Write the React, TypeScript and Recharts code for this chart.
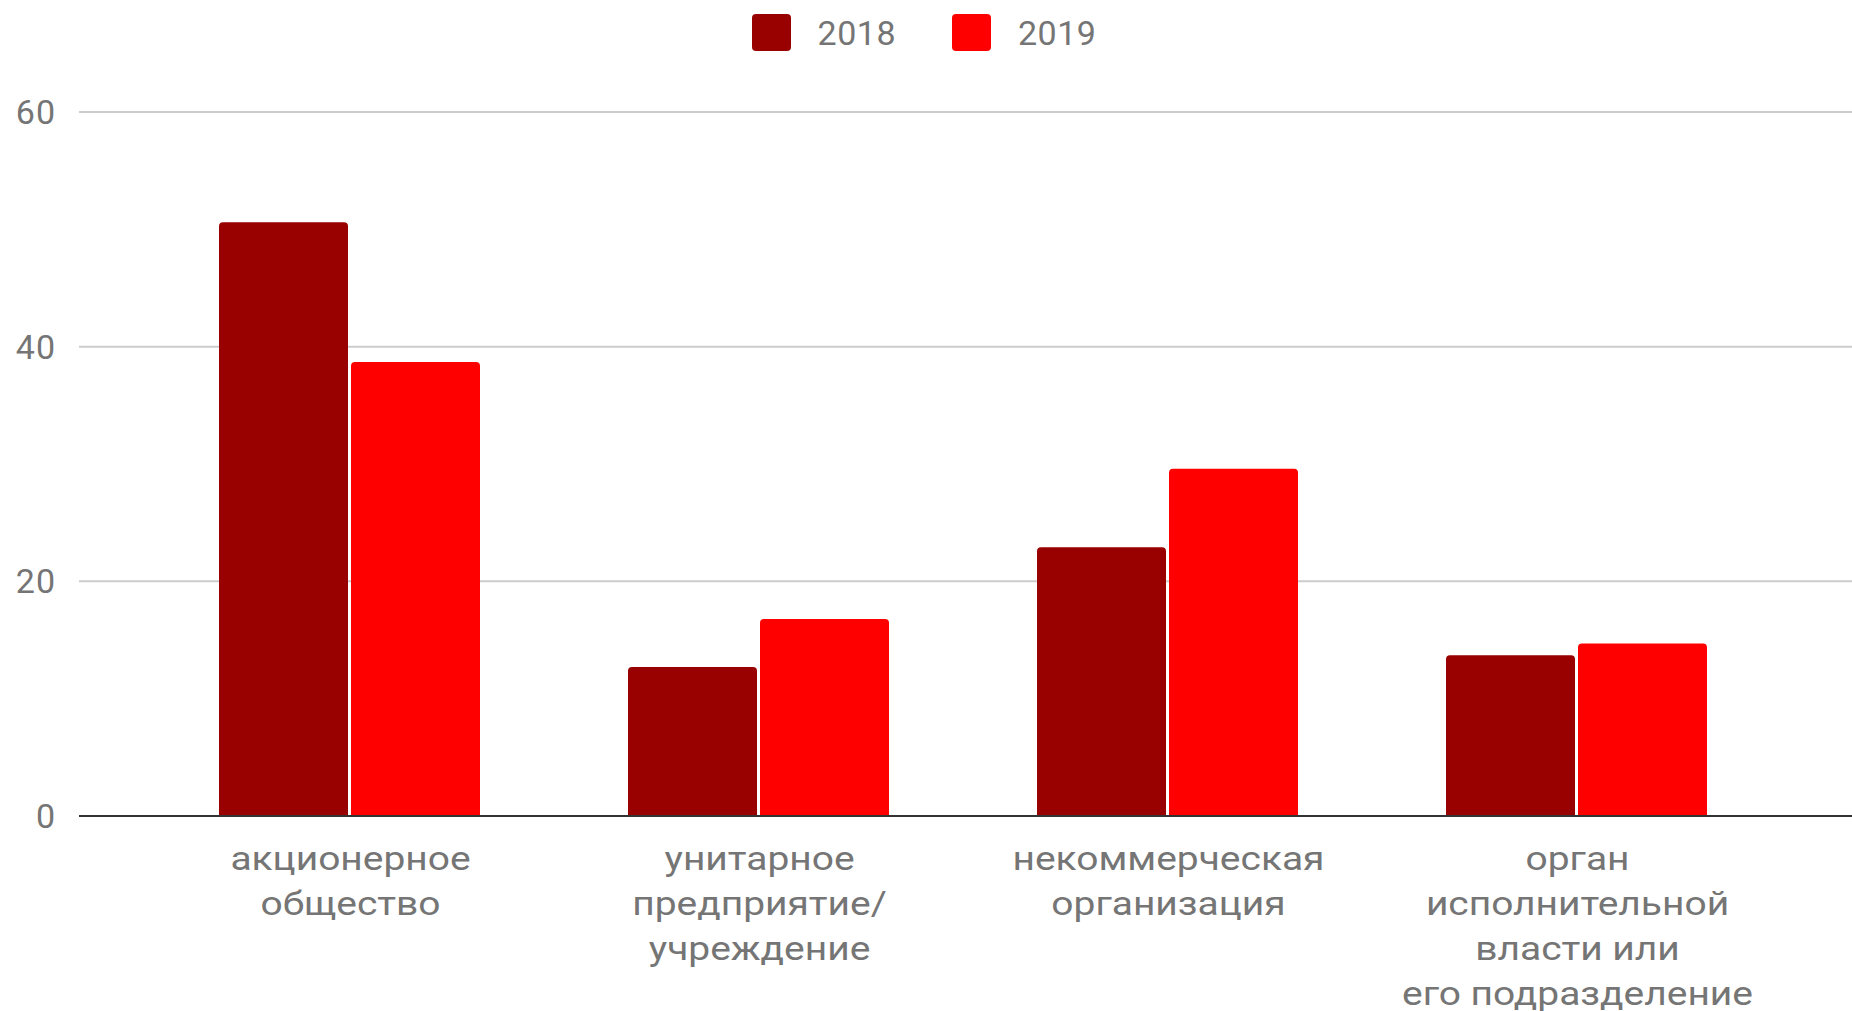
import { BarChart, Bar, XAxis, YAxis, CartesianGrid, Legend } from 'recharts';

const categories = ['акционерное общество', 'унитарное предприятие/учреждение', 'некоммерческая организация', 'орган исполнительной власти или его подразделение'];
const categoryLines = [
  ['акционерное', 'общество'],
  ['унитарное', 'предприятие/', 'учреждение'],
  ['некоммерческая', 'организация'],
  ['орган', 'исполнительной', 'власти или', 'его подразделение'],
];
const values2018 = [50.6, 12.7, 22.9, 13.7];
const values2019 = [38.7, 16.8, 29.6, 14.7];
const yTicks = [0, 20, 40, 60];

const SERIES = [
  { key: 'y2018', name: '2018', color: '#990000' },
  { key: 'y2019', name: '2019', color: '#ff0000' },
];

const FONT = 'Roboto, sans-serif';
const TEXT = '#757575';

const data = categories.map((name, i) => ({
  name,
  y2018: values2018[i],
  y2019: values2019[i],
}));

// multi-line category labels; the original glyphs are stretched sideways
const CategoryTick = ({ x, y, index }: any) => {
  const lines = categoryLines[index] || [];
  return (
    <g transform={`translate(${x + 1},${y}) scale(1.18,1)`}>
      <text x={0} y={0} textAnchor="middle" fill={TEXT} fontSize={33} fontFamily={FONT}>
        {lines.map((l, i) => (
          <tspan key={i} x={0} dy={i === 0 ? 54 : 45}>{l}</tspan>
        ))}
      </text>
    </g>
  );
};

const LegendBox = () => (
  <div style={{ display: 'flex', justifyContent: 'center', alignItems: 'center', height: 65, fontFamily: FONT, paddingRight: 4 }}>
    {SERIES.map((s, i) => (
      <div key={s.key} style={{ display: 'flex', alignItems: 'center', marginLeft: i === 0 ? 0 : 56 }}>
        <div style={{ width: 39, height: 37, borderRadius: 4, background: s.color }} />
        <span style={{ marginLeft: 27, fontSize: 34, color: TEXT, letterSpacing: 0.5 }}>{s.name}</span>
      </div>
    ))}
  </div>
);

export default function App() {
  return (
    <div style={{ position: 'absolute', left: 0, top: 0, width: 1852, height: 1011, background: '#fff' }}>
      <BarChart
        width={1852}
        height={1011}
        data={data}
        margin={{ top: 112, right: 0, bottom: 0, left: 0 }}
        barSize={129}
        barGap={3}
      >
        <CartesianGrid vertical={false} stroke="#cccccc" strokeWidth={2} />
        <XAxis
          dataKey="name"
          height={195}
          interval={0}
          padding={{ left: 66, right: 71 }}
          tickLine={false}
          tickSize={0}
          tickMargin={0}
          axisLine={{ stroke: '#333333', strokeWidth: 2 }}
          tick={<CategoryTick />}
        />
        <YAxis
          width={79}
          domain={[0, 60]}
          ticks={yTicks}
          axisLine={false}
          tickLine={false}
          tickSize={0}
          tickMargin={23}
          tick={{ fill: TEXT, fontSize: 34, fontFamily: FONT, letterSpacing: 1 }}
        />
        <Legend
          layout="horizontal"
          verticalAlign="middle"
          align="center"
          wrapperStyle={{ position: 'absolute', top: 0, left: 0, width: 1852 }}
          content={() => <LegendBox />}
        />
        {SERIES.map((s) => (
          <Bar key={s.key} dataKey={s.key} name={s.name} fill={s.color} radius={[4, 4, 0, 0]} isAnimationActive={false} />
        ))}
      </BarChart>
    </div>
  );
}
